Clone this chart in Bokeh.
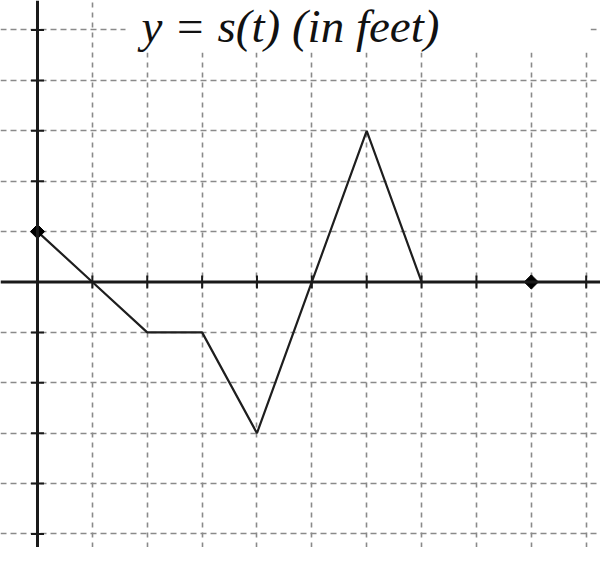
from bokeh.plotting import figure
from bokeh.models import Range1d, FixedTicker, Span, Label, ColumnDataSource, BoxAnnotation
from bokeh.embed import file_html
from bokeh.resources import INLINE
import math

# data
t_vals = [0, 1, 2, 3, 4, 5, 6, 7]
s_vals = [1, 0, -1, -1, -3, 0, 3, 0]
dot_t = [0, 9]
dot_s = [1, 0]
x_ticks = [1, 2, 3, 4, 5, 6, 7, 8, 9, 10]
y_ticks = [-5, -4, -3, -2, -1, 1, 2, 3, 4, 5]
title_text = "y = s(t) (in feet)"

p = figure(width=600, height=547, output_backend="svg", toolbar_location=None,
           x_range=Range1d(-0.6743, 10.261), y_range=Range1d(-5.268, 5.585),
           min_border=0, outline_line_color=None, background_fill_color="white",
           border_fill_color="white")
p.xaxis.visible = False
p.yaxis.visible = False

p.xgrid.ticker = FixedTicker(ticks=x_ticks)
p.ygrid.ticker = FixedTicker(ticks=y_ticks)
p.xgrid.grid_line_color = "#8a8a8a"
p.ygrid.grid_line_color = "#8a8a8a"
p.xgrid.grid_line_width = 1.6
p.ygrid.grid_line_width = 1.6
p.xgrid.grid_line_dash = "5 5"
p.ygrid.grid_line_dash = "6 4"

# axes
p.add_layout(Span(location=0, dimension="width", line_color="#1a1a1a", line_width=3))
p.add_layout(Span(location=0, dimension="height", line_color="#1a1a1a", line_width=3))

# tick marks
p.scatter(x=x_ticks, y=[0] * len(x_ticks), marker="cross", size=13,
          line_color="#1a1a1a", line_width=2)
p.scatter(x=[0] * len(y_ticks), y=y_ticks, marker="cross", size=13,
          line_color="#1a1a1a", line_width=2)

# curve
src = ColumnDataSource(dict(t=t_vals, s=s_vals))
p.line("t", "s", source=src, line_color="#1e1e1e", line_width=2.2)

# diamond points
p.scatter(x=dot_t, y=dot_s, marker="square", angle=math.pi / 4, size=10,
          fill_color="black", line_color="black")

# white patch behind the title
p.add_layout(BoxAnnotation(left=1.604, right=10.08, bottom=4.554, top=6.0,
                           fill_color="white", fill_alpha=1.0, line_color=None,
                           line_alpha=0.0))

# title
p.add_layout(Label(x=1.895, y=5.08, text=title_text, text_font="Liberation Serif",
                   text_font_style="italic", text_font_size="47px",
                   text_color="#111111", text_baseline="alphabetic"))

open("out.html", "w").write(file_html(p, INLINE))
